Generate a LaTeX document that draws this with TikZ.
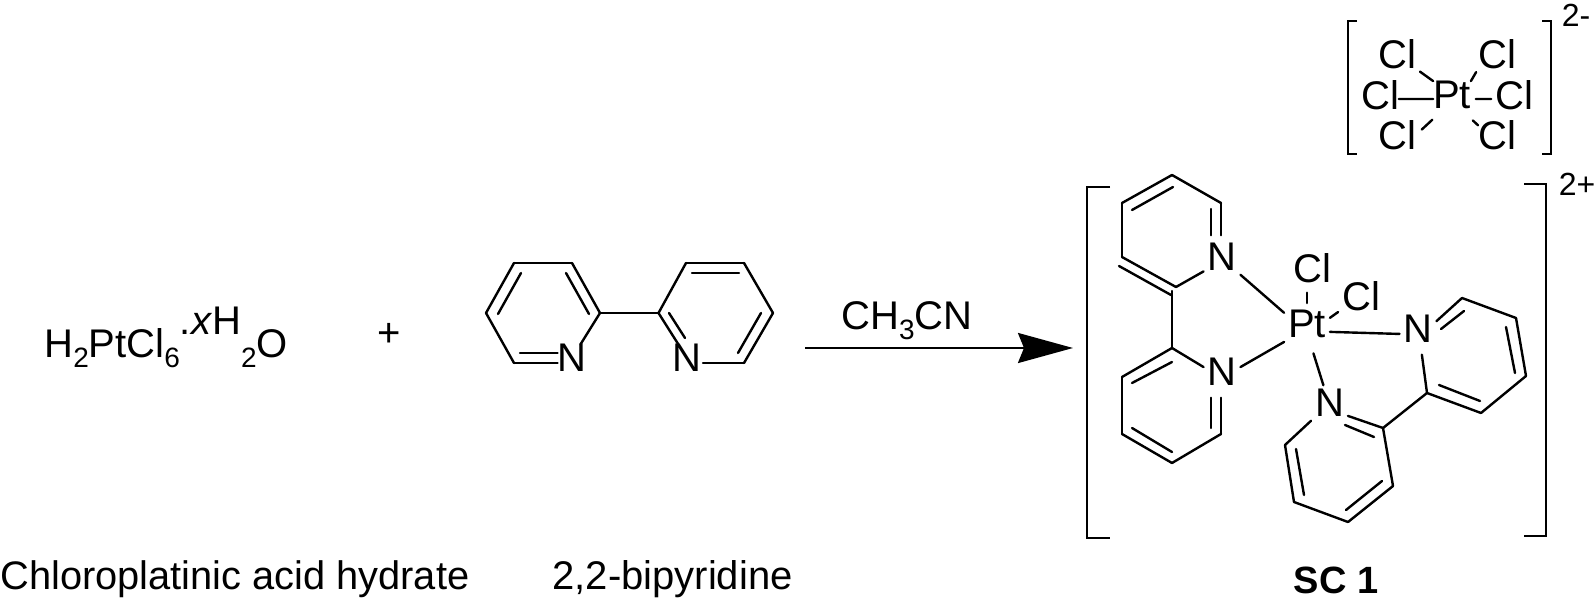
\documentclass[tikz,border=0pt]{standalone}
\usepackage{fontspec}
\setmainfont{Liberation Sans}
\usetikzlibrary{arrows.meta}
\newcommand{\lowered}[1]{\raisebox{-5pt}{\fontsize{14pt}{14pt}\selectfont #1}}
\tikzset{
    bond/.style={line width=1.2pt, line cap=round},
    bracket/.style={line width=1.2pt},
    atom/.style={inner sep=0pt, outer sep=0pt, font=\fontsize{20pt}{20pt}\selectfont},
    ligand/.style={atom, outer sep=2pt},
    caption/.style={inner sep=0pt, anchor=base, font=\fontsize{20pt}{20pt}\selectfont},
    charge/.style={inner sep=0pt, font=\fontsize{16pt}{16pt}\selectfont},
}
\begin{document}
\begin{tikzpicture}[x=0.5pt,y=-0.5pt]
    \useasboundingbox (0,0) rectangle (1595,598);

    \node(acid) [caption, anchor=base west] at (44,358) {H\lowered{2}PtCl\lowered{6}\raisebox{11.5pt}{.\textit{x}H}\lowered{2}O};
    \node(plus) [atom] at (389,335) {+};
    \node(acidname) [caption, anchor=base west, font=\fontsize{19.9pt}{20pt}\selectfont] at (0,589) {Chloroplatinic acid hydrate};
    \node(bipyname) [caption, anchor=base west] at (552,589) {2,2-bipyridine};
    \node(product) [caption, font=\fontsize{19pt}{19pt}\selectfont\bfseries] at (1336,593) {SC 1};

    \node(bipyNa) [atom] at (572,358) {N};
    \node(bipyNb) [atom] at (687,358) {N};
    \foreach \name/\xx/\yy in {a1/514/263, a2/572/263, a3/600/313, a4/514/363, a5/486/313,
        b1/658.5/313, b2/686/263, b3/744/263, b4/773/313, b5/744/363, b6/703/363,
        ai1/498/314, ai2/521/273, ai3/566/273, ai4/589/314, ai5/520/353,
        bi1/669/313, bi2/685/338, bi3/692/273, bi4/739/273, bi5/761/313, bi6/738/353}
        \coordinate (\name) at (\xx,\yy);
    \foreach \from/\to in {a5/a1, a1/a2, a2/a3, a3/b1, a4/a5, ai1/ai2, ai3/ai4, b1/b2, b2/b3, b3/b4, b4/b5, b5/b6, bi1/bi2, bi3/bi4, bi5/bi6}
        \draw[bond] (\from) -- (\to);
    \draw[bond] (a3) -- (bipyNa);
    \draw[bond] (a4) -- (a4 -| bipyNa.west);
    \draw[bond] (ai5) -- (ai5 -| bipyNa.west);
    \draw[bond] (b1) -- (bipyNb);

    \coordinate (arrowstart) at (805,348);
    \coordinate (arrowend) at (1073,348);
    \draw[line width=1.2pt, -{Stealth[length=27.5pt, width=15pt, inset=3pt]}] (arrowstart) -- (arrowend);
    \node(solvent) [caption] at (907,330) {CH\lowered{3}CN};

    % anion
    \node(ptA) [atom] at (1452,95) {Pt};
    \node(clA) [atom] at (1397,54) {Cl};
    \node(clB) [atom] at (1497,54) {Cl};
    \node(clC) [atom] at (1380,95) {Cl};
    \node(clD) [atom] at (1514,95) {Cl};
    \node(clE) [atom] at (1397,135) {Cl};
    \node(clF) [atom] at (1497,135) {Cl};
    \draw[bond, shorten <=2.5pt] (clA.south east) -- (ptA.north west);
    \draw[bond, shorten <=2pt] (clB.south west) -- (ptA.north east);
    \draw[bond] (clC.-12) -- (ptA.192);
    \draw[bond, shorten <=2.5pt, shorten >=2pt] (ptA.-12) -- (clD.192);
    \draw[bond, shorten <=8pt, shorten >=4pt] (ptA.-120) -- (clE.east);
    \draw[bond, shorten <=8.5pt] (ptA.-59) -- (clF.153);
    \draw[bracket] (1357,21) -- (1348,21) -- (1348,154) -- (1357,154);
    \draw[bracket] (1542,21) -- (1551,21) -- (1551,154) -- (1542,154);
    \node(chargeA) [charge] at (1576,15) {2-};

    % cation
    \node(ptB) [ligand] at (1307,324) {Pt};
    \node(clG) [ligand] at (1312,268) {Cl};
    \node(clH) [ligand] at (1361,296) {Cl};
    \node(nA) [ligand] at (1222,257) {N};
    \node(nB) [ligand] at (1222,372) {N};
    \node(nC) [ligand] at (1418,329) {N};
    \node(nD) [ligand] at (1329.5,403) {N};
    \foreach \name/\xx/\yy in {c1/1172/175, c2/1122/203, c3/1122/257, c4/1176/287, c5/1221/203,
        ci1/1132/210, ci2/1173/187, ci3/1119/266, ci4/1171/295, ci5/1211/209, cb/1172/291,
        d1/1172/348, d2/1122/377, d3/1122/434, d4/1172/463, d5/1221/434,
        di1/1132/383, di2/1172/362, di3/1132/428, di4/1172/452, di5/1211/428,
        e1/1462/298, e2/1516/318, e3/1526/376, e4/1481/413, e5/1427/393,
        ei1/1441/329, ei2/1464/311, ei3/1506/327, ei4/1515/373, ei5/1480/401, ei6/1439/385,
        f1/1383/428, f2/1393/486, f3/1348/522, f4/1294/502, f5/1285/445,
        fi1/1345/425, fi2/1374/437, fi3/1382/481, fi4/1346/510, fi5/1304/495, fi6/1296/449}
        \coordinate (\name) at (\xx,\yy);
    \foreach \from/\to in {c1/c2, c2/c3, c3/c4, c1/c5, ci1/ci2, ci3/ci4, cb/d1, d1/d2, d2/d3, d3/d4, d4/d5, di1/di2, di3/di4,
        e1/e2, e2/e3, e3/e4, e4/e5, ei1/ei2, ei3/ei4, ei5/ei6, e5/f1,
        f1/f2, f2/f3, f3/f4, f4/f5, fi1/fi2, fi3/fi4, fi5/fi6}
        \draw[bond] (\from) -- (\to);
    \draw[bond] (c4) -- (nA.218);
    \draw[bond, shorten >=2pt] (c5) -- (c5 |- nA.north);
    \draw[bond, shorten >=2pt] (ci5) -- (ci5 |- nA.north);
    \draw[bond] (d1) -- (nB.165);
    \draw[bond, shorten >=4pt] (d5) -- (d5 |- nB.south);
    \draw[bond, shorten >=4pt] (di5) -- (di5 |- nB.south);
    \draw[bond] (nC.23) -- (e1);
    \draw[bond, shorten <=4pt] (nC.-81) -- (e5);
    \draw[bond] (nD.-35) -- (f1);
    \draw[bond] (nD.south west) -- (f5);
    \draw[bond] (nA.south east) -- (ptB.154);
    \draw[bond] (nB.15) -- (ptB.south west);
    \draw[bond] (ptB.-19) -- (nC.195);
    \draw[bond, shorten <=6pt] (ptB.-81) -- (nD.109);
    \draw[bond, shorten <=3pt, shorten >=1.5pt] (clG.south -| ptB) -- (ptB.north);
    \draw[bond] (clH.215) -- (ptB.15);
    \draw[bracket] (1110,187) -- (1087,187) -- (1087,538) -- (1110,538);
    \draw[bracket] (1524,184) -- (1546,184) -- (1546,536) -- (1524,536);
    \node(chargeB) [charge] at (1577,184) {2+};
\end{tikzpicture}
\end{document}
